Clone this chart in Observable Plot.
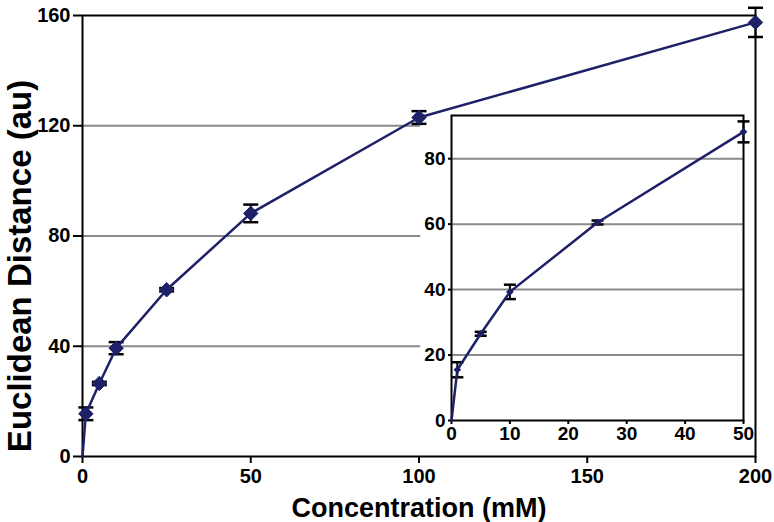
<!DOCTYPE html>
<html>
<head>
<meta charset="utf-8">
<script src="https://cdn.jsdelivr.net/npm/d3@7"></script>
<script src="https://cdn.jsdelivr.net/npm/@observablehq/plot@0.6"></script>
<style>
  body { margin: 0; background: white; }
  #wrap { position: relative; width: 774px; height: 522px; }
  #inset { position: absolute; left: 420px; top: 100px; }
</style>
</head>
<body>
<div id="wrap"><div id="main"></div><div id="inset"></div></div>
<script>
// Data
const conc = [0, 1, 5, 10, 25, 50, 100, 200];          // mM
const dist = [0, 15.5, 26.5, 39.3, 60.5, 88.2, 123, 157.5]; // au
const err  = [0, 2.3, 0.6, 2.2, 0.6, 3.2, 2.3, 5.3];
const mainXTicks = [0, 50, 100, 150, 200];
const mainYTicks = [0, 40, 80, 120, 160];
const mainGrid = [40, 80, 120];
const insetXTicks = [0, 10, 20, 30, 40, 50];
const insetYTicks = [0, 20, 40, 60, 80];
const insetGrid = [20, 40, 60, 80];

const data = conc.map((c, i) => ({conc: c, dist: dist[i], lo: dist[i] - err[i], hi: dist[i] + err[i]}));
const pts = data.filter(d => d.conc > 0);
const insetData = data.filter(d => d.conc <= 50);
const insetPts = insetData.filter(d => d.conc > 0);

const navy = "#1e2068";
const font = "'Liberation Sans', Arial, Helvetica, sans-serif";
const cap = {draw(ctx, size) { const w = Math.sqrt(size / Math.PI); ctx.moveTo(-w, 0); ctx.lineTo(w, 0); }};

const main = Plot.plot({
  width: 774, height: 522,
  marginLeft: 82, marginRight: 19, marginTop: 15, marginBottom: 66,
  style: {fontFamily: font, fontWeight: "bold", background: "white", color: "black", overflow: "visible"},
  x: {domain: [0, 200]},
  y: {domain: [0, 160]},
  marks: [
    // gridlines stop where the inset begins
    Plot.ruleY(mainGrid, {x1: 0, x2: 100.5, stroke: "#8a8a8a", strokeWidth: 2}),
    Plot.frame({stroke: "black", strokeWidth: 2}),
    Plot.axisX({ticks: mainXTicks, tickSize: 7, tickPadding: 5, fontSize: 20, fontWeight: "bold", label: null, stroke: "black", strokeWidth: 2}),
    Plot.axisY({ticks: mainYTicks, tickSize: 9, tickPadding: 3, fontSize: 20, fontWeight: "bold", label: null, stroke: "black", strokeWidth: 2}),
    Plot.ruleX(pts, {x: "conc", y1: "lo", y2: "hi", stroke: "black", strokeWidth: 2}),
    Plot.dot(pts, {x: "conc", y: "lo", symbol: cap, r: 7.5, stroke: "black", strokeWidth: 2.5, fill: "none"}),
    Plot.dot(pts, {x: "conc", y: "hi", symbol: cap, r: 7.5, stroke: "black", strokeWidth: 2.5, fill: "none"}),
    Plot.line(data, {x: "conc", y: "dist", stroke: navy, strokeWidth: 2.5}),
    Plot.dot(pts, {x: "conc", y: "dist", symbol: "diamond2", r: 6.5, fill: navy, stroke: navy, strokeWidth: 1}),
    Plot.text(["Concentration (mM)"], {frameAnchor: "bottom", dy: 52, fontSize: 27, fontWeight: "bold", fill: "black", textAnchor: "middle", lineAnchor: "middle"}),
    Plot.text(["Euclidean Distance (au)"], {frameAnchor: "left", dx: -62, dy: 30, rotate: -90, fontSize: 33, fontWeight: "bold", fill: "black", textAnchor: "middle", lineAnchor: "middle"})
  ]
});
document.getElementById("main").appendChild(main);

const inset = Plot.plot({
  width: 332, height: 345,
  marginLeft: 31, marginRight: 9, marginTop: 15, marginBottom: 25,
  style: {fontFamily: font, fontWeight: "bold", background: "transparent", color: "black", overflow: "visible"},
  x: {domain: [0, 50]},
  y: {domain: [0, 93.2]},
  marks: [
    Plot.ruleY(insetGrid, {stroke: "#8a8a8a", strokeWidth: 2}),
    Plot.frame({stroke: "black", strokeWidth: 2}),
    Plot.axisX({ticks: insetXTicks, tickSize: 4, tickPadding: 2, fontSize: 19, fontWeight: "bold", label: null, stroke: "black", strokeWidth: 2}),
    Plot.axisY({ticks: insetYTicks, tickSize: 3, tickPadding: 3, fontSize: 19, fontWeight: "bold", label: null, stroke: "black", strokeWidth: 2}),
    Plot.ruleX(insetPts, {x: "conc", y1: "lo", y2: "hi", stroke: "black", strokeWidth: 2}),
    Plot.dot(insetPts, {x: "conc", y: "lo", symbol: cap, r: 6, stroke: "black", strokeWidth: 2.5, fill: "none"}),
    Plot.dot(insetPts, {x: "conc", y: "hi", symbol: cap, r: 6, stroke: "black", strokeWidth: 2.5, fill: "none"}),
    Plot.line(insetData, {x: "conc", y: "dist", stroke: navy, strokeWidth: 2.5}),
    Plot.dot(insetPts, {x: "conc", y: "dist", symbol: "diamond2", r: 2.5, fill: navy, stroke: navy})
  ]
});
document.getElementById("inset").appendChild(inset);
</script>
</body>
</html>
